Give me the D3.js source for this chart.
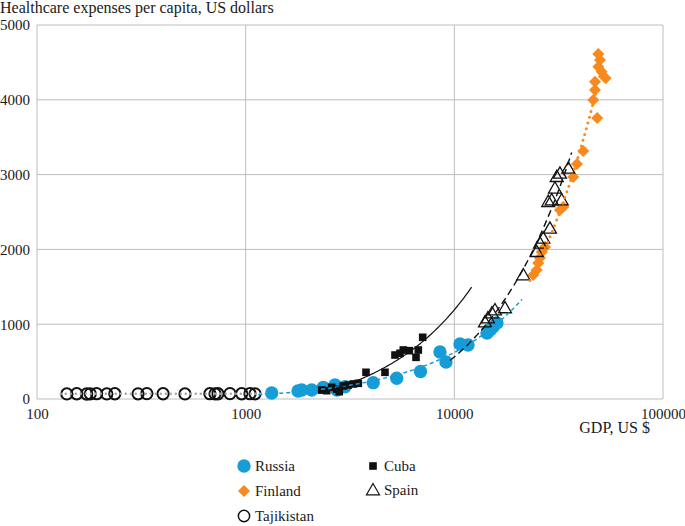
<!DOCTYPE html>
<html>
<head>
<meta charset="utf-8">
<script src="https://cdn.jsdelivr.net/npm/d3@7"></script>
<style>
    body { margin: 0; background: #fff; }
</style>
</head>
<body>
<div id="canvas"></div>
<script>
// DATA (GDP per capita, US $ / healthcare expenses per capita, US $)
const russiaGdp = [1333, 1782, 1856, 2072, 2355, 2680, 2740, 2992, 4088, 5294, 6883, 8536, 9120, 10645, 11630, 14340, 14830, 15320, 16010];
const russiaHc  = [80, 107, 120, 120, 156, 187, 120, 164, 218, 277, 368, 628, 495, 735, 722, 882, 922, 963, 1016];

const cubaGdp = [2314, 2445, 2584, 2731, 2810, 2937, 3103, 3280, 3466, 3773, 4652, 5195, 5491, 5693, 6084, 6552, 6720, 7053];
const cubaHc  = [120, 111, 156, 130, 98, 174, 187, 201, 210, 357, 357, 588, 611, 655, 646, 557, 655, 825];

const finlandGdp = [48970, 49900, 48970, 50830, 53120, 47210, 47210, 46330, 48420, 41500, 38700, 37150, 33270, 32080, 27190, 26220, 25720, 25240, 24830, 23880];
const finlandHc  = [4612, 4532, 4443, 4376, 4288, 4242, 4131, 3997, 3757, 3316, 3142, 2968, 2567, 2527, 2032, 1965, 1885, 1818, 1725, 1658];

const spainGdp = [14030, 14490, 15150, 15660, 17490, 21410, 24830, 25740, 26690, 28720, 28190, 29290, 32690, 30350, 30950, 32080, 35170];
const spainHc  = [1029, 1083, 1150, 1190, 1217, 1658, 1969, 2082, 2148, 2282, 2638, 2660, 2660, 2817, 2972, 3017, 3084];

const tajikGdp = [139, 155, 173, 180, 193, 216, 236, 305, 336, 402, 512, 674, 713, 736, 841, 957, 1049, 1109];
const tajikHc  = [68, 70, 67, 69, 71, 68, 70, 69, 72, 70, 68, 71, 69, 70, 72, 70, 71, 69];

// trendline GDP ranges (with forecast as in the source)
const russiaTrend  = [1150, 21100];
const cubaTrend    = [2220, 12100];
const finlandTrend = [23050, 50000];
const spainTrend   = [9530, 36500];
const tajikTrend   = [130, 1250];

const xTicks = [100, 1000, 10000, 100000];
const yTicks = [0, 1000, 2000, 3000, 4000, 5000];

// DIMENSIONS
const width = 685;
const height = 526;
const margin = { top: 25, right: 22, bottom: 127, left: 37 };
const plot_width = width - margin.left - margin.right;
const plot_height = height - margin.top - margin.bottom;

const grid = "#bdbdbd";
const blue = "#169dd8";
const orange = "#f7891f";
const serif = '"Liberation Serif", "DejaVu Serif", "Times New Roman", serif';

// CANVAS
const canvas = d3.select("#canvas")
    .append("svg")
    .attr("width", width)
    .attr("height", height)
    .style("background", "#fff");

const plot = canvas.append("g")
    .attr("transform", `translate(${margin.left}, ${margin.top})`);

// SCALES
const xScale = d3.scaleLog().domain([100, 100000]).range([0, plot_width]);
const yScale = d3.scaleLinear().domain([0, 5000]).range([plot_height, 0]);

// GRID
plot.append("g").selectAll("line")
    .data(yTicks)
    .join("line")
    .attr("x1", 0).attr("x2", plot_width)
    .attr("y1", d => yScale(d)).attr("y2", d => yScale(d))
    .attr("stroke", grid).attr("stroke-width", 1);

plot.append("g").selectAll("line")
    .data(xTicks)
    .join("line")
    .attr("x1", d => xScale(d)).attr("x2", d => xScale(d))
    .attr("y1", 0).attr("y2", plot_height)
    .attr("stroke", grid).attr("stroke-width", 1);

// AXES (labels only)
const xAx = d3.axisBottom(xScale).tickValues(xTicks).tickFormat(d3.format("d")).tickSize(0).tickPadding(9);
const yAx = d3.axisLeft(yScale).tickValues(yTicks).tickFormat(d3.format("d")).tickSize(0).tickPadding(7);

plot.append("g")
    .attr("transform", `translate(0, ${plot_height})`)
    .call(xAx)
    .call(g => g.select(".domain").remove());

plot.append("g")
    .call(yAx)
    .call(g => g.select(".domain").remove());

// LABELS
canvas.append("text").attr("class", "lbl").attr("x", 0).attr("y", 13).text("Healthcare expenses per capita, US dollars");
canvas.append("text").attr("class", "lbl").attr("x", 650).attr("y", 433).attr("text-anchor", "end").text("GDP, US $");

// MARKERS
const circle = d3.symbol().type(d3.symbolCircle).size(140)();
const ring = d3.symbol().type(d3.symbolCircle).size(100)();
const square = d3.symbol().type(d3.symbolSquare).size(58)();
const diamond = d3.symbol().type(d3.symbolSquare).size(72)();
const triangle = "M0,-6.5L6.5,4.8L-6.5,4.8Z";

function scatter(xs, ys, path, style, rotate) {
    plot.append("g").selectAll("path")
        .data(xs.map((x, i) => ({ x: x, y: ys[i] })))
        .join("path")
        .attr("d", path)
        .attr("transform", d => `translate(${xScale(d.x)}, ${yScale(d.y)})${rotate ? " rotate(45)" : ""}`)
        .attr("fill", style.fill)
        .attr("stroke", style.stroke || "none")
        .attr("stroke-width", style.sw || 0);
}

scatter(russiaGdp, russiaHc, circle, { fill: blue });
scatter(finlandGdp, finlandHc, diamond, { fill: orange }, true);
scatter(tajikGdp, tajikHc, ring, { fill: "none", stroke: "#111", sw: 2 });
scatter(cubaGdp, cubaHc, square, { fill: "#111" });
scatter(spainGdp, spainHc, triangle, { fill: "none", stroke: "#111", sw: 1.3 });

// TRENDLINES (least squares, linear in GDP)
function fit(xs, ys) {
    const mx = d3.mean(xs), my = d3.mean(ys);
    const b = d3.sum(xs, (x, i) => (x - mx) * (ys[i] - my)) / d3.sum(xs, x => (x - mx) * (x - mx));
    return x => my + b * (x - mx);
}

const makeLine = d3.line()
    .x(d => xScale(d[0]))
    .y(d => yScale(d[1]))
    .defined(d => d[1] >= 0);

function trend(xs, ys, range, style) {
    const f = fit(xs, ys);
    const pts = d3.range(0, 81).map(i => {
        const x = range[0] * Math.pow(range[1] / range[0], i / 80);
        return [x, f(x)];
    });
    plot.append("path")
        .attr("d", makeLine(pts))
        .attr("fill", "none")
        .attr("stroke", style.stroke)
        .attr("stroke-width", style.sw)
        .attr("stroke-dasharray", style.dash)
        .attr("stroke-linecap", style.cap || "butt");
}

trend(tajikGdp, tajikHc, tajikTrend, { stroke: "#a6a6a6", sw: 2.5, dash: "0,5", cap: "round" });
trend(russiaGdp, russiaHc, russiaTrend, { stroke: blue, sw: 1.5, dash: "4,3" });
trend(cubaGdp, cubaHc, cubaTrend, { stroke: "#111", sw: 1.2, dash: null });
trend(spainGdp, spainHc, spainTrend, { stroke: "#111", sw: 1.4, dash: "7,4" });
trend(finlandGdp, finlandHc, finlandTrend, { stroke: orange, sw: 3, dash: "0,6", cap: "round" });

// LEGEND
const legendItems = [
    { name: "Russia", x: 244, y: 466, path: circle, fill: blue },
    { name: "Finland", x: 244, y: 491, path: diamond, fill: orange, rotate: true },
    { name: "Tajikistan", x: 244, y: 516, path: ring, fill: "none", stroke: "#111", sw: 1.5 },
    { name: "Cuba", x: 373, y: 466, path: square, fill: "#111" },
    { name: "Spain", x: 373, y: 490, path: triangle, fill: "none", stroke: "#111", sw: 1.2 }
];

const legend = canvas.append("g");
legend.selectAll("path")
    .data(legendItems)
    .join("path")
    .attr("d", d => d.path)
    .attr("transform", d => `translate(${d.x}, ${d.y})${d.rotate ? " rotate(45)" : ""}`)
    .attr("fill", d => d.fill)
    .attr("stroke", d => d.stroke || "none")
    .attr("stroke-width", d => d.sw || 0);

legend.selectAll("text")
    .data(legendItems)
    .join("text")
    .attr("x", d => d.x + 11)
    .attr("y", d => d.y + 5)
    .text(d => d.name);

// TEXT STYLE (serif, like the source)
canvas.selectAll("text")
    .style("font-family", serif)
    .style("font-size", "15px")
    .style("fill", "#1a1a1a");
canvas.selectAll("text.lbl").style("font-size", "16px");
</script>
</body>
</html>
